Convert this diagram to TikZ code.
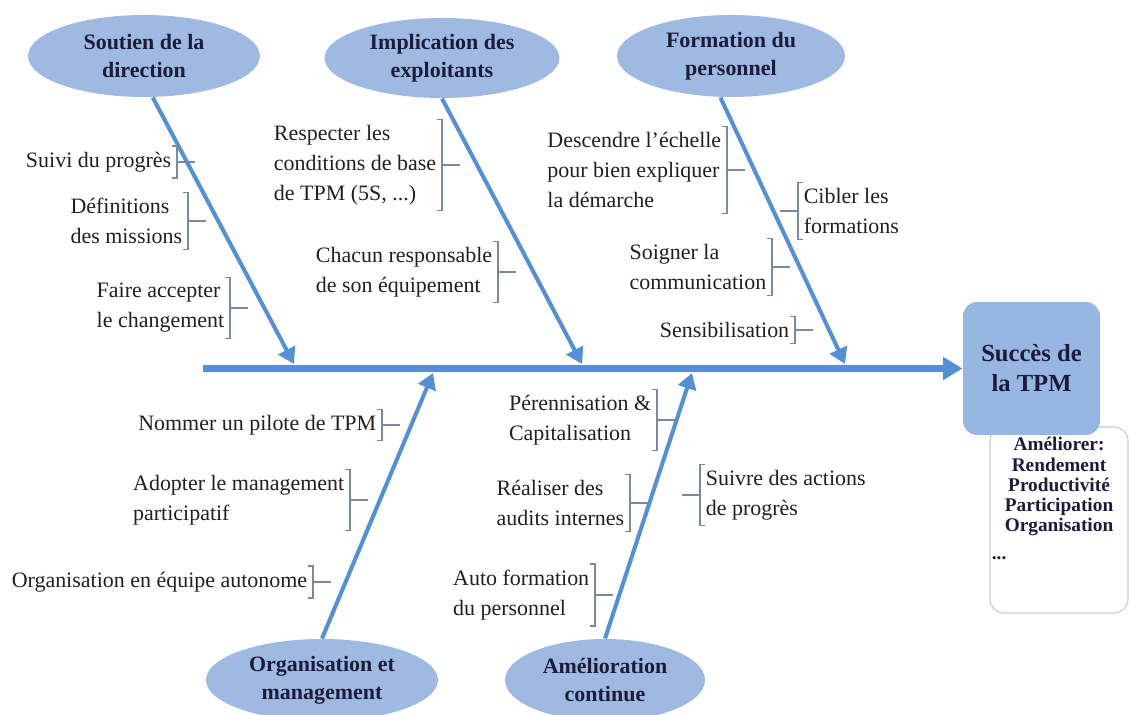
\documentclass[tikz,border=0pt]{standalone}
\usepackage{fontspec}
\setmainfont{Liberation Serif}
\usetikzlibrary{arrows.meta,shapes}
\definecolor{bonecol}{RGB}{86,144,212}
\definecolor{causefill}{RGB}{158,186,226}
\definecolor{causetext}{RGB}{28,28,58}
\definecolor{effectfill}{RGB}{152,182,226}
\definecolor{ideatext}{RGB}{32,32,32}
\definecolor{brkcol}{RGB}{122,136,160}
\definecolor{gainline}{RGB}{196,202,212}

\begin{document}
\begin{tikzpicture}[semithick,
                cause/.style={shape=ellipse,fill=causefill,inner sep=0pt,minimum width=4.64cm,minimum height=1.64cm,align=center,text=causetext,font=\bfseries\fontsize{12.5}{16}\selectfont},
                idea/.style={align=left,inner xsep=3pt,inner ysep=3pt,text=ideatext,font=\fontsize{12.5}{17}\selectfont},
                brk/.style={draw=brkcol,line width=0.8pt},
                bone/.style={draw=bonecol,line width=2.3pt,-{Triangle[length=9pt,width=10.5pt]}},
                spine/.style={draw=bonecol,line width=4.5pt,-{Triangle[length=11pt,width=12.5pt]}}]
                \useasboundingbox (0,0) rectangle (22.58,-14.3);
                \node[cause](soutien)at(2.88, -1.12){Soutien de la\\direction};
                \node[cause,minimum width=4.7cm,minimum height=1.6cm](implic)at(8.84, -1.16){Implication des\\exploitants};
                \node[cause,minimum width=4.56cm](format)at(14.62, -1.12){Formation du\\personnel};
                \node[cause](organ)at(6.44, -13.6){Organisation et\\management};
                \node[cause,minimum width=4cm](amelio)at(12.1, -13.6){Amélioration\\continue};
                \node[draw=gainline,line width=0.6pt,rounded corners=8pt,minimum width=2.76cm,minimum height=3.72cm](gain)at(21.18, -10.4){};
                \node[fill=effectfill,rounded corners=8pt,minimum width=2.74cm,minimum height=2.66cm,align=center,text=causetext,font=\bfseries\fontsize{14}{17}\selectfont](succes)at(20.63, -7.37){Succès de\\la TPM};
                \node[anchor=north,align=center,inner sep=1pt,text=causetext,font=\bfseries\fontsize{11}{11.5}\selectfont](gainlist)at([yshift=-5pt]gain.north){Améliorer:\\Rendement\\Productivité\\Participation\\Organisation\\[4pt]...\hspace*{6.2em}};
                \node[idea,anchor=east](suivi)at(3.54, -3.24){Suivi du progrès};
                \node[idea,anchor=east](defin)at(3.76, -4.42){Définitions\\des missions};
                \node[idea,anchor=east](faire)at(4.60, -6.16){Faire accepter\\le changement};
                \node[idea,anchor=east](respect)at(8.84, -3.30){Respecter les\\conditions de base\\de TPM (5S, ...)};
                \node[idea,anchor=east](chacun)at(9.96, -5.44){Chacun responsable\\de son équipement};
                \node[idea,anchor=east](descend)at(14.54, -3.40){Descendre l’échelle\\pour bien expliquer\\la démarche};
                \node[idea,anchor=west](cibler)at(15.96, -4.22){Cibler les\\formations};
                \node[idea,anchor=east](soigner)at(15.44, -5.34){Soigner la\\communication};
                \node[idea,anchor=east](sensib)at(15.90, -6.60){Sensibilisation};
                \node[idea,anchor=east](nommer)at(7.64, -8.50){Nommer un pilote de TPM};
                \node[idea,anchor=east](adopter)at(7.00, -10.00){Adopter le management\\participatif};
                \node[idea,anchor=east](equipe)at(6.26, -11.64){Organisation en équipe autonome};
                \node[idea,anchor=east](perenn)at(13.14, -8.40){Pérennisation \&\\Capitalisation};
                \node[idea,anchor=east](audits)at(12.60, -10.06){Réaliser des\\audits internes};
                \node[idea,anchor=west](suivre)at(14.00, -9.90){Suivre des actions\\de progrès};
                \node[idea,anchor=east](autoform)at(11.90, -11.90){Auto formation\\du personnel};
                \coordinate(tail)at(4.06, -7.37);
                \coordinate(t1)at(5.88, -7.28);
                \coordinate(t2)at(11.64, -7.28);
                \coordinate(t3)at(16.9, -7.28);
                \coordinate(t4)at(8.66, -7.46);
                \coordinate(t5)at(13.84, -7.46);
                \draw[spine](tail) -- (succes.west);
                \path([xshift=5pt]soutien.south) edge[bone] (t1)
                (implic.south) edge[bone] (t2)
                ([xshift=-6pt]format.south) edge[bone] (t3)
                (organ.north) edge[bone] (t4)
                (amelio.north) edge[bone] (t5);
                \foreach \n in {suivi,defin,faire,respect,chacun,descend,soigner,sensib,nommer,adopter,equipe,perenn,audits,autoform}
                    \draw[brk]([xshift=-3pt]\n.north east) -- (\n.north east) -- (\n.south east) -- ++(-3pt,0)
                    (\n.east) -- ++(10pt,0);
                \foreach \n in {cibler,suivre}
                    \draw[brk]([xshift=3pt]\n.north west) -- (\n.north west) -- (\n.south west) -- ++(3pt,0)
                    (\n.west) -- ++(-10pt,0);
            \end{tikzpicture}
\end{document}
